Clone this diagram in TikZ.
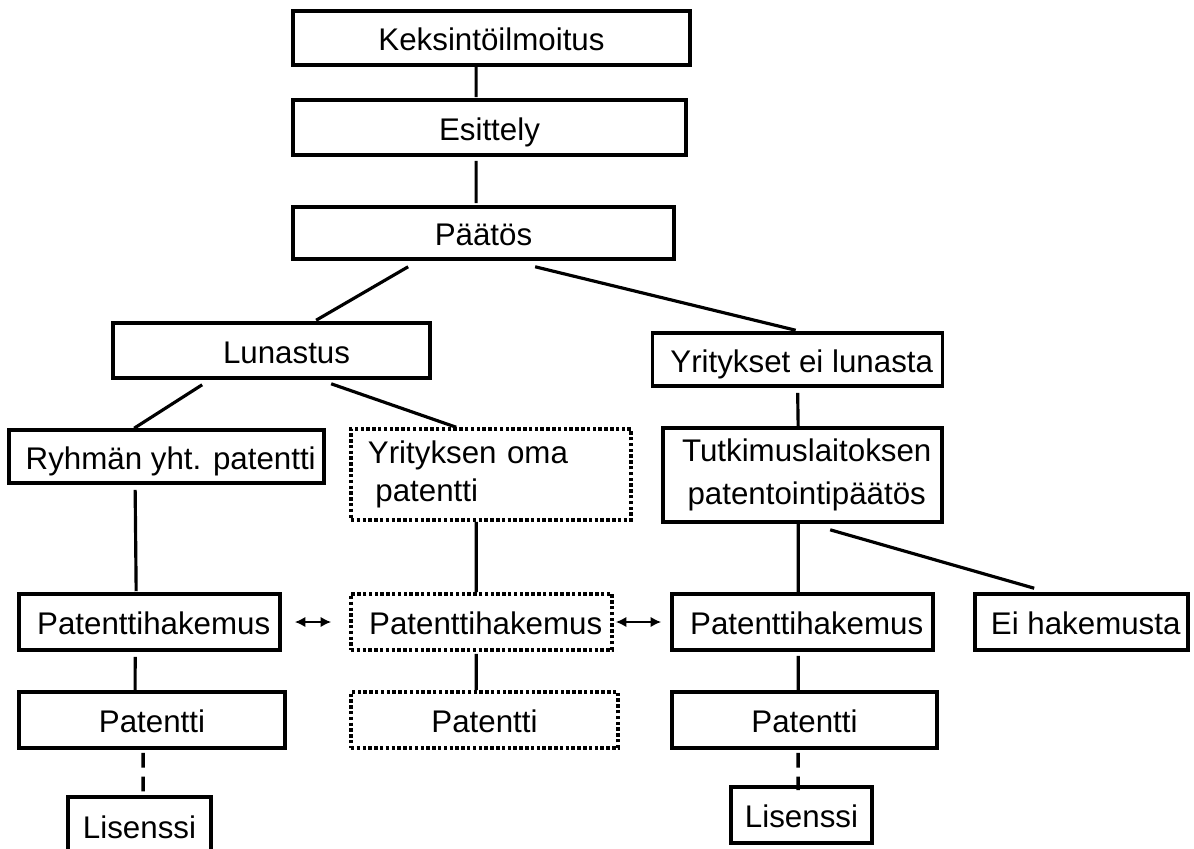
\documentclass[tikz,border=0pt]{standalone}
\usepackage{fontspec}
\setmainfont{Liberation Sans}
\usetikzlibrary{calc,arrows.meta}
\tikzset{
  boxbase/.style={draw, line width=1pt, inner sep=0pt, align=center,
    font=\fontsize{8.9}{10.8}\selectfont},
  box/.style={boxbase, text height=7.2pt, text depth=0pt},
  dotbox/.style={box, dash pattern=on 1pt off 0.65pt},
  multibox/.style={boxbase},
  dotmulti/.style={boxbase, dash pattern=on 1pt off 0.65pt},
  conn/.style={line width=0.9pt},
  dconn/.style={line width=1pt, dash pattern=on 4.2pt off 2.6pt},
  dbl/.style={line width=0.6pt, {Latex[length=3pt,width=3pt]}-{Latex[length=3pt,width=3pt]}}
}
\newcommand\sh{\hspace*{2.4pt}}
\begin{document}
\begin{tikzpicture}[x=0.01cm,y=-0.01cm]
\useasboundingbox (0,0) rectangle (1194,848);
\fill[white] (0,0) rectangle (1194,848);
% nodes
\node[box, minimum width=3.97cm, minimum height=0.54cm] (k) at (491.5,38) {Keksintöilmoitus};
\node[box, minimum width=3.93cm, minimum height=0.55cm] (e) at (489.5,127.5) {Esittely};
\node[box, minimum width=3.81cm, minimum height=0.52cm] (p) at (483.5,233) {Päätös};
\node[box, minimum width=3.17cm, minimum height=0.55cm] (l) at (271.5,350.5) {\hspace*{0.3cm}Lunastus};
\node[box, minimum width=2.90cm, minimum height=0.53cm] (y) at (797.5,359.5) {\sh Yritykset ei lunasta};
\node[multibox, minimum width=2.79cm, minimum height=0.94cm] (t) at (802.5,475) {\sh Tutkimuslaitoksen\\[1.4pt]\sh patentointipäätös};
\node[box, minimum width=3.15cm, minimum height=0.53cm] (r) at (166.5,456.5) {\sh Ryhmän yht. patentti};
\node[dotmulti, minimum width=2.80cm, minimum height=0.91cm, text width=2.46cm, align=left] (o) at (491,474.5) {Yrityksen oma\\\hspace*{0.75mm}patentti};
\node[box, minimum width=2.61cm, minimum height=0.56cm] (ph1) at (149.5,622) {\sh Patenttihakemus};
\node[dotbox, minimum width=2.61cm, minimum height=0.56cm] (ph2) at (481.5,622) {\sh Patenttihakemus};
\node[box, minimum width=2.61cm, minimum height=0.56cm] (ph3) at (802.5,622) {\sh Patenttihakemus};
\node[box, minimum width=2.13cm, minimum height=0.56cm] (ei) at (1081.5,622) {\sh Ei hakemusta};
\node[box, minimum width=2.66cm, minimum height=0.56cm] (pa1) at (152,720) {Patentti};
\node[dotbox, minimum width=2.67cm, minimum height=0.56cm] (pa2) at (484.5,720) {Patentti};
\node[box, minimum width=2.65cm, minimum height=0.56cm] (pa3) at (804.5,720) {Patentti};
\node[box, minimum width=1.43cm, minimum height=0.58cm] (li1) at (139.5,826) {Lisenssi};
\node[box, minimum width=1.41cm, minimum height=0.56cm] (li2) at (801.5,815) {Lisenssi};
% connectors
\draw[conn] ($(k.south west)+(185,-3)$) -- ($(e.north west)+(185,-1)$);
\draw[conn] ($(e.south west)+(185,4)$) -- ($(p.north west)+(185,-2)$);
\draw[conn] ($(p.south west)+(117,6)$) -- ($(l.north west)+(205,-1)$);
\draw[conn] ($(p.south west)+(244,6)$) -- ($(y.north west)+(145,-1)$);
\draw[conn] ($(l.south west)+(91,5)$) -- ($(r.north west)+(127,0)$);
\draw[conn] ($(l.south west)+(220,4)$) -- ($(o.north west)+(107,0)$);
\draw[conn] ($(y.south west)+(147,5)$) -- ($(t.north west)+(137,0)$);
\draw[conn] ($(r.south west)+(128,5)$) -- ($(ph1.north west)+(119,-1)$);
\draw[conn] ($(o.south west)+(127,0)$) -- ($(ph2.north west)+(127,0)$);
\draw[conn] ($(t.south west)+(137,0)$) -- ($(ph3.north west)+(128,0)$);
\draw[conn] ($(t.south west)+(169,6)$) -- ($(ei.north west)+(61,-4)$);
\draw[conn] ($(ph1.south west)+(118,5)$) -- ($(pa1.north west)+(118,0)$);
\draw[conn] ($(ph2.south west)+(127,2)$) -- ($(pa2.north west)+(127,0)$);
\draw[conn] ($(ph3.south west)+(128,4)$) -- ($(pa3.north west)+(128,0)$);
\draw[dconn] ($(pa1.south west)+(126,3)$) -- ($(li1.north west)+(77,-2)$);
\draw[dconn] ($(pa3.south west)+(128,3)$) -- ($(li2.north west)+(69,5)$);
\draw[dbl] ($(ph1.east)+(13,0)$) -- ($(ph2.west)+(-18,0)$);
\draw[dbl] ($(ph2.east)+(2,0)$) -- ($(ph3.west)+(-9,0)$);
\end{tikzpicture}
\end{document}
